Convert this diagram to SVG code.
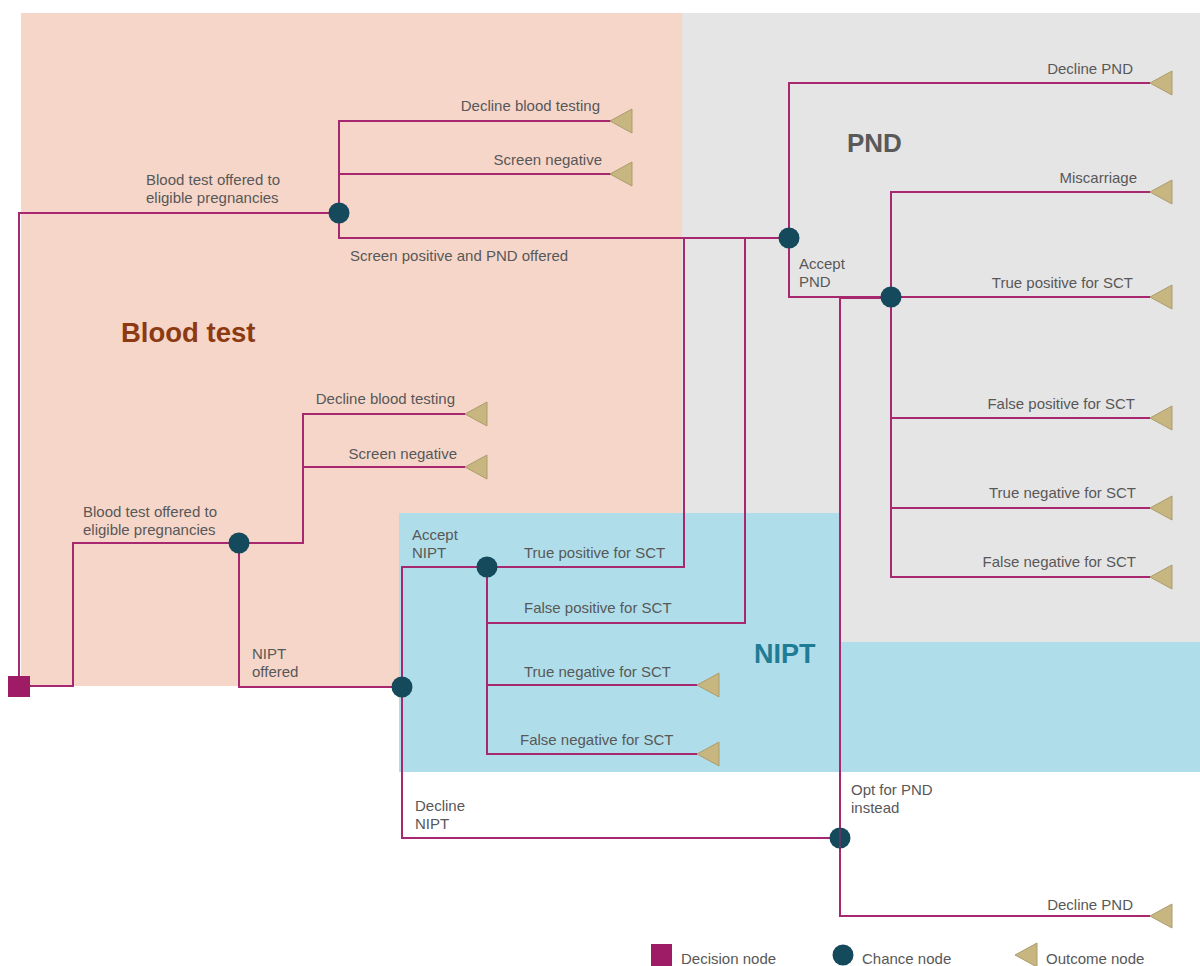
<svg xmlns="http://www.w3.org/2000/svg" width="1200" height="966" viewBox="0 0 1200 966">
<defs>
<style>
.ln{fill:none;stroke:#a8286f;stroke-width:2;stroke-linejoin:miter}
.t{font-family:"Liberation Sans",Arial,sans-serif;font-size:15px;fill:#585858}
.e{text-anchor:end}
.ch{fill:#15495c}
.out{fill:#c8b680;stroke:#ab9c6c;stroke-width:1}
.dec{fill:#9e1b66}
</style>
<polygon id="tri" points="0,0 22,-12 22,12"/>
</defs>
<rect width="1200" height="966" fill="#ffffff"/>
<g id="regions">
<rect x="21" y="13" width="661" height="673" fill="#f6d6c9"/>
<rect x="682" y="13" width="518" height="630" fill="#e6e5e6"/>
<polygon points="399,513 840,513 840,642 1200,642 1200,772 399,772" fill="#afdeea"/>
<text x="121" y="342" style="font-family:'Liberation Sans',Arial,sans-serif;font-size:27.5px;font-weight:bold;fill:#8c3a12">Blood test</text>
<text x="847" y="152" style="font-family:'Liberation Sans',Arial,sans-serif;font-size:26px;font-weight:bold;fill:#595959">PND</text>
<text x="754" y="663" style="font-family:'Liberation Sans',Arial,sans-serif;font-size:27px;font-weight:bold;fill:#1f7c95">NIPT</text>
</g>
<g id="connectors">
<polyline class="ln" points="19,686 19,213 339,213"/>
<polyline class="ln" points="19,686 73,686 73,543 239,543"/>
<polyline class="ln" points="612,121 339,121 339,238 789,238"/>
<line class="ln" x1="339" y1="174" x2="612" y2="174"/>
<polyline class="ln" points="1150,83 789,83 789,297 891,297"/>
<polyline class="ln" points="1150,192 891,192 891,577 1150,577"/>
<line class="ln" x1="891" y1="297" x2="1150" y2="297"/>
<line class="ln" x1="891" y1="418" x2="1150" y2="418"/>
<line class="ln" x1="891" y1="508" x2="1150" y2="508"/>
<polyline class="ln" points="684,238 684,567 487,567"/>
<polyline class="ln" points="745,238 745,623 487,623"/>
<polyline class="ln" points="465,414 303,414 303,543 239,543"/>
<line class="ln" x1="303" y1="467" x2="465" y2="467"/>
<polyline class="ln" points="239,543 239,687 402,687"/>
<polyline class="ln" points="487,567 402,567 402,838 840,838"/>
<polyline class="ln" points="487,567 487,754 697,754"/>
<line class="ln" x1="487" y1="685" x2="697" y2="685"/>
<polyline class="ln" points="891,298 840,298 840,916 1150,916"/>
</g>
<g id="n-decision"><rect class="dec" x="8" y="676" width="22" height="21"/></g>
<g id="n-chance1"><circle class="ch" cx="339" cy="213" r="10.5"/></g>
<g id="n-chance2"><circle class="ch" cx="239" cy="543" r="10.5"/></g>
<g id="n-pnd1"><circle class="ch" cx="789" cy="238" r="10.5"/></g>
<g id="n-pnd2"><circle class="ch" cx="891" cy="297" r="10.5"/></g>
<g id="n-nipt1"><circle class="ch" cx="402" cy="687" r="10.5"/></g>
<g id="n-nipt2"><circle class="ch" cx="487" cy="567" r="10.5"/></g>
<g id="n-opt"><circle class="ch" cx="840" cy="838" r="10.5"/><line x1="840" y1="828" x2="840" y2="848" stroke="#a8286f" stroke-width="1"/></g>
<g id="outcomes">
<use href="#tri" class="out" x="610" y="121"/>
<use href="#tri" class="out" x="610" y="174"/>
<use href="#tri" class="out" x="465" y="414"/>
<use href="#tri" class="out" x="465" y="467"/>
<use href="#tri" class="out" x="1150" y="83"/>
<use href="#tri" class="out" x="1150" y="192"/>
<use href="#tri" class="out" x="1150" y="297"/>
<use href="#tri" class="out" x="1150" y="418"/>
<use href="#tri" class="out" x="1150" y="508"/>
<use href="#tri" class="out" x="1150" y="577"/>
<use href="#tri" class="out" x="697" y="685"/>
<use href="#tri" class="out" x="697" y="754"/>
<use href="#tri" class="out" x="1150" y="916"/>
</g>
<g id="labels">
<text class="t" x="146" y="185">Blood test offered to</text>
<text class="t" x="146" y="203">eligible pregnancies</text>
<text class="t e" x="600" y="111">Decline blood testing</text>
<text class="t e" x="602" y="165">Screen negative</text>
<text class="t" x="350" y="261">Screen positive and PND offered</text>
<text class="t e" x="1133" y="74">Decline PND</text>
<text class="t e" x="1137" y="183">Miscarriage</text>
<text class="t" x="799" y="269">Accept</text>
<text class="t" x="799" y="287">PND</text>
<text class="t e" x="1133" y="288">True positive for SCT</text>
<text class="t e" x="1135" y="409">False positive for SCT</text>
<text class="t e" x="1136" y="498">True negative for SCT</text>
<text class="t e" x="1136" y="567">False negative for SCT</text>
<text class="t e" x="455" y="404">Decline blood testing</text>
<text class="t e" x="457" y="459">Screen negative</text>
<text class="t" x="83" y="517">Blood test offered to</text>
<text class="t" x="83" y="535">eligible pregnancies</text>
<text class="t" x="252" y="659">NIPT</text>
<text class="t" x="252" y="677">offered</text>
<text class="t" x="412" y="540">Accept</text>
<text class="t" x="412" y="558">NIPT</text>
<text class="t" x="524" y="558">True positive for SCT</text>
<text class="t" x="524" y="613">False positive for SCT</text>
<text class="t" x="524" y="677">True negative for SCT</text>
<text class="t" x="520" y="745">False negative for SCT</text>
<text class="t" x="415" y="811">Decline</text>
<text class="t" x="415" y="829">NIPT</text>
<text class="t" x="851" y="795">Opt for PND</text>
<text class="t" x="851" y="813">instead</text>
<text class="t e" x="1133" y="910">Decline PND</text>
</g>
<g id="legend">
<rect class="dec" x="651" y="944" width="21" height="22"/>
<text class="t" x="681" y="964">Decision node</text>
<circle class="ch" cx="843" cy="955" r="10.5"/>
<text class="t" x="862" y="964">Chance node</text>
<use href="#tri" class="out" x="1015" y="955"/>
<text class="t" x="1046" y="964">Outcome node</text>
</g>
</svg>
